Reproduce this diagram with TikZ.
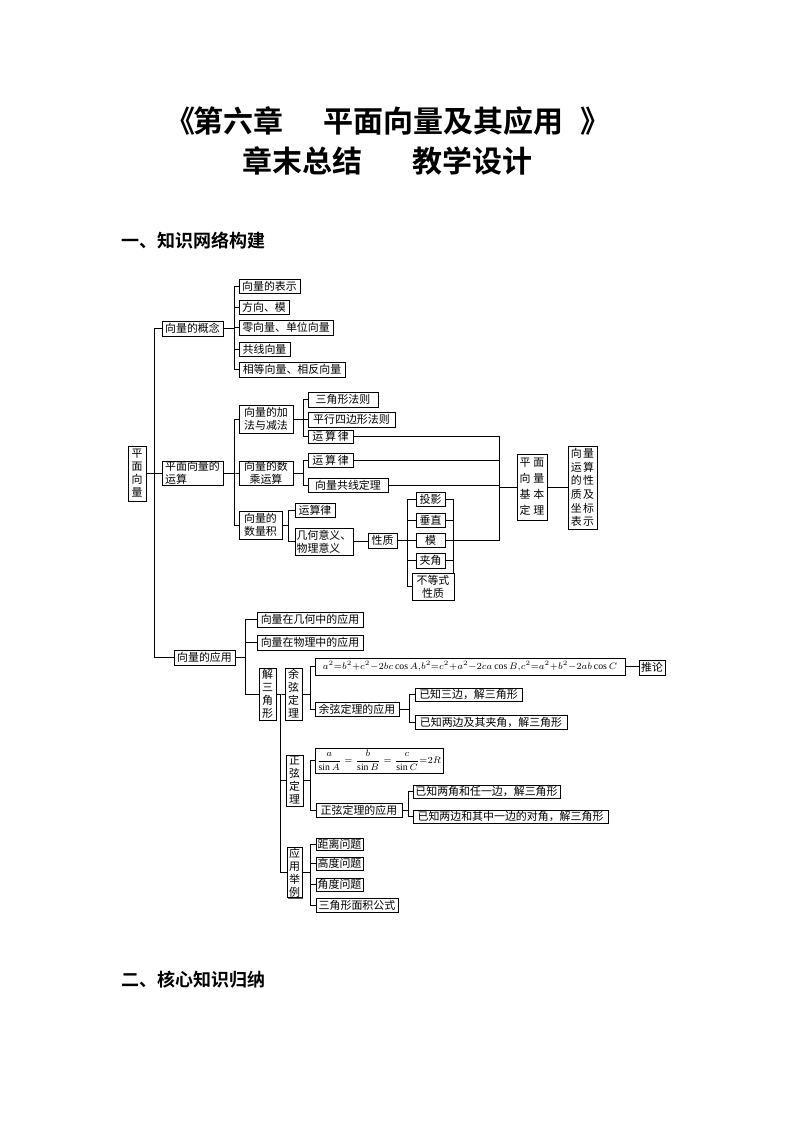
\documentclass[tikz,border=0pt]{standalone}
\usepackage{fontspec}
\setmainfont{Liberation Serif}
\newfontfamily\cjk[BoldFont={Noto Sans CJK SC Bold}]{Noto Sans CJK SC}
\usetikzlibrary{shadows}
\newcommand\B[7][]{\node[bx,#1, minimum width={(#5-#3)*0.75pt}, minimum height={(#6-#4)*0.75pt}] (#2) at ({(#3+#5)/2},{(#4+#6)/2}) {#7};}
\newcommand\br[3]{\foreach \nn in {#3} \draw (#1.east) -- (#1.east -| #2) |- (\nn.west);}
\begin{document}
\begin{tikzpicture}[x=0.75pt,y=-0.75pt,line width=0.5pt,
  bx/.style={draw, fill=white, inner sep=0.5pt, align=center,
    font=\cjk\fontsize{8.2}{9.6}\selectfont,
    drop shadow={shadow xshift=0.7pt, shadow yshift=-0.7pt, fill=black!65, opacity=1}},
  vt/.style={font=\cjk\fontsize{8.2}{9.75}\selectfont},
  ttl/.style={inner sep=0pt, anchor=west, font=\cjk\bfseries\fontsize{22.5}{26}\selectfont},
  hd/.style={inner sep=0pt, anchor=west, font=\cjk\bfseries\fontsize{13.5}{16}\selectfont}]
\useasboundingbox (0,0) rectangle (794,1123);
% titles
\node[ttl, anchor=east] (t0) at (196,121) {《};
\node[ttl] (t1) at (193,121) {第六章};
\node[ttl] (t2) at (323,121) {平面向量及其应用};
\node[ttl] (t3) at (580,121) {》};
\node[ttl] (t4) at (242,161) {章末总结};
\node[ttl] (t5) at (412,161) {教学设计};
\node[hd] (h1) at (121,241) {一、知识网络构建};
\node[hd] (h2) at (121,980) {二、核心知识归纳};
% coordinates for brackets
\coordinate (k0) at (154,0);
\coordinate (k1) at (234,0);
\coordinate (k2) at (303,0);
\coordinate (k3) at (288,0);
\coordinate (k4) at (407,0);
\coordinate (k8) at (453,0);
\coordinate (k9) at (499,0);
\coordinate (m1) at (245,0);
\coordinate (m2) at (280,0);
\coordinate (m3) at (310,0);
\coordinate (m4) at (409,0);
\coordinate (m5) at (408,0);
% boxes
\B[vt]{pm}{128}{446}{146}{501}{平\\面\\向\\量}
\B{gn}{162}{321}{223}{336}{向量的概念}
\B[align=left]{ys}{162}{461}{223}{485}{平面向量的\\运算}
\B{yy}{174}{650}{235}{665}{向量的应用}
\B{c1}{239}{279}{300}{293}{向量的表示}
\B{c2}{239}{300}{289}{314}{方向、模}
\B{c3}{239}{320}{333}{335}{零向量、单位向量}
\B{c4}{239}{342}{290}{356}{共线向量}
\B{c5}{239}{362}{345}{377}{相等向量、相反向量}
\B{jf}{239}{405}{293}{433}{向量的加\\法与减法}
\B{sc}{239}{461}{293}{485}{向量的数\\乘运算}
\B{sl}{239}{511}{282}{539}{向量的\\数量积}
\B{a1}{308}{392}{378}{407}{三角形法则}
\B{a2}{308}{412}{395}{427}{平行四边形法则}
\B{a3}{308}{430}{353}{443}{运\,算\,律}
\B{b1}{308}{453}{353}{467}{运\,算\,律}
\B{b2}{308}{478}{388}{492}{向量共线定理}
\B{d1}{295}{503}{335}{517}{运算律}
\B[align=left]{d2}{295}{528}{353}{555}{几何意义、\\物理意义}
\B{xz}{368}{533}{397}{548}{性质}
\B{e1}{416}{492}{445}{506}{投影}
\B{e2}{416}{513}{445}{527}{垂直}
\B{e3}{416}{533}{445}{547}{模}
\B{e4}{416}{553}{445}{568}{夹角}
\B{e5}{412}{573}{454}{600}{不等式\\性质}
\B[font=\cjk\fontsize{8.2}{12}\selectfont]{jb}{517}{454}{547}{520}{平\hspace{2pt}面\\向\hspace{2pt}量\\基\hspace{2pt}本\\定\hspace{2pt}理}
\B[font=\cjk\fontsize{8.2}{10.2}\selectfont]{xx}{568}{446}{597}{529}{向\hspace{1pt}量\\运\hspace{1pt}算\\的\hspace{1pt}性\\质\hspace{1pt}及\\坐\hspace{1pt}标\\表\hspace{1pt}示}
\B{f1}{257}{612}{363}{627}{向量在几何中的应用}
\B{f2}{257}{635}{363}{650}{向量在物理中的应用}
\B[vt]{js}{259}{668}{276}{720}{解\\三\\角\\形}
\B[vt]{yx}{285}{668}{302}{720}{余\\弦\\定\\理}
\B[vt]{zx}{286}{755}{303}{806}{正\\弦\\定\\理}
\B[vt]{yl}{287}{848}{302}{897}{应\\用\\举\\例}
\B[font=\fontsize{7.3}{9}\selectfont]{g1}{315}{658}{625}{675}{$a^2{=}b^2{+}c^2{-}2bc\cos A{,}b^2{=}c^2{+}a^2{-}2ca\cos B{,}c^2{=}a^2{+}b^2{-}2ab\cos C$}
\B{tl}{639}{660}{665}{675}{推论}
\B{g2}{315}{702}{399}{716}{余弦定理的应用}
\B{h1x}{415}{688}{522}{701}{已知三边，解三角形}
\B{h2x}{415}{715}{567}{729}{已知两边及其夹角，解三角形}
\B[font=\fontsize{7.3}{9}\selectfont]{i1}{315}{748}{443}{773}{$\displaystyle\frac{a}{\sin A}=\frac{b}{\sin B}=\frac{c}{\sin C}{=}2R$}
\B{i2}{316}{803}{402}{817}{正弦定理的应用}
\B{j1}{413}{785}{560}{798}{已知两角和任一边，解三角形}
\B{j2}{413}{810}{608}{823}{已知两边和其中一边的对角，解三角形}
\B{l1}{316}{838}{363}{850}{距离问题}
\B{l2}{316}{857}{363}{870}{高度问题}
\B{l3}{316}{878}{363}{891}{角度问题}
\B{l4}{316}{898}{398}{912}{三角形面积公式}
% connectors
\br{pm}{k0}{gn,ys,yy}
\br{gn}{k1}{c1,c2,c3,c4,c5}
\br{ys}{k1}{jf,sc,sl}
\br{jf}{k2}{a1,a2,a3}
\br{sc}{k2}{b1,b2}
\br{sl}{k3}{d1,d2}
\draw (d2.east) -- (d2.east -| xz.west);
\br{xz}{k4}{e1,e2,e3,e4,e5}
\draw (e1.east) -- (e1.east -| k8) -- (e5.north -| k8);
\foreach \nn in {e2,e4} \draw (\nn.east) -- (\nn.east -| k8);
\foreach \nn in {a3,b1,b2,e3} \draw (\nn.east) -- (\nn.east -| k9) |- (jb.west);
\draw (jb.east) -- (jb.east -| xx.west);
\br{yy}{m1}{f1,f2,js}
\br{js}{m2}{yx,zx,yl}
\br{yx}{m3}{g1,g2}
\draw (g1.east) -- (g1.east -| tl.west);
\br{g2}{m4}{h1x,h2x}
\br{zx}{m3}{i1,i2}
\br{i2}{m5}{j1,j2}
\br{yl}{m3}{l1,l2,l3,l4}
\end{tikzpicture}
\end{document}
